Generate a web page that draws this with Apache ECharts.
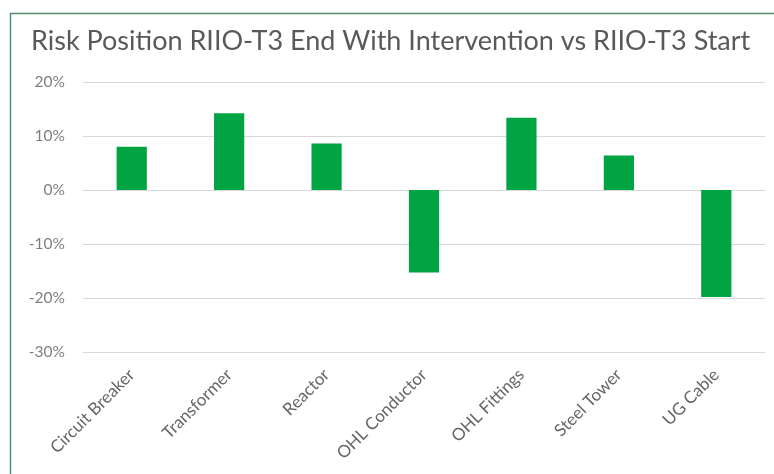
<!DOCTYPE html>
<html>
<head>
<meta charset="utf-8">
<script src="https://cdn.jsdelivr.net/npm/echarts@6/dist/echarts.min.js"></script>
<style>
  html, body { margin: 0; padding: 0; background: #ffffff; }
  #chart { width: 774px; height: 474px; }
</style>
</head>
<body>
<div id="chart"></div>
<script>
// Change in risk position per asset class, in percent
const categories = ['Circuit Breaker', 'Transformer', 'Reactor', 'OHL Conductor', 'OHL Fittings', 'Steel Tower', 'UG Cable'];
const riskChange = [8.0, 14.2, 8.6, -15.3, 13.4, 6.4, -19.8];
const yTicks = { min: -30, max: 20, step: 10 };
const titleText = 'Risk Position RIIO-T3 End With Intervention vs RIIO-T3 Start';

const chart = echarts.init(document.getElementById('chart'), null, { renderer: 'canvas' });

chart.setOption({
  backgroundColor: '#ffffff',
  animation: false,
  textStyle: { fontFamily: 'Lato, "Open Sans", sans-serif' },
  graphic: [{
    type: 'rect',
    silent: true,
    shape: { x: 10.5, y: 13.5, width: 800, height: 500 },
    style: { fill: 'none', stroke: '#4f8f6c', lineWidth: 1.5 }
  }],
  title: {
    text: titleText,
    left: 26,
    top: 23,
    textStyle: { color: '#595959', fontSize: 27, fontWeight: 'normal', fontFamily: 'Lato, sans-serif' }
  },
  grid: { left: 83, right: 9, top: 82, bottom: 122, containLabel: false },
  xAxis: {
    type: 'category',
    data: categories,
    axisLine: { show: false, onZero: false },
    axisTick: { show: false },
    axisLabel: {
      rotate: 45,
      margin: 20,
      color: '#666666',
      fontSize: 17,
      interval: 0
    }
  },
  yAxis: {
    type: 'value',
    min: yTicks.min,
    max: yTicks.max,
    interval: yTicks.step,
    axisLine: { show: false },
    axisTick: { show: false },
    axisLabel: { formatter: '{value}%', color: '#7f7f7f', fontSize: 15.5, margin: 18 },
    splitLine: { lineStyle: { color: '#d9d9d9', width: 1 } }
  },
  series: [{
    type: 'bar',
    data: riskChange,
    barWidth: '31%',
    itemStyle: { color: '#00a443' }
  }]
});
</script>
</body>
</html>
